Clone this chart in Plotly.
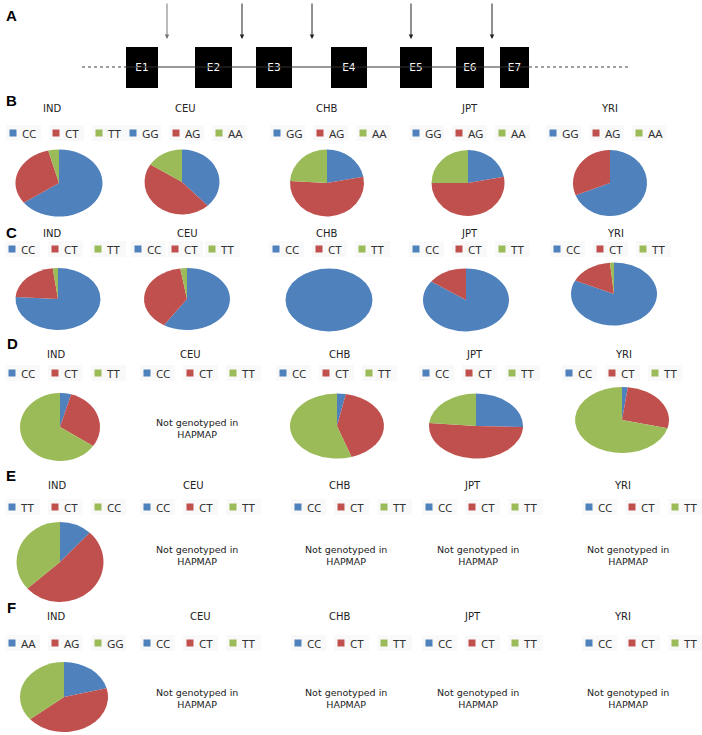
import json
import plotly.graph_objects as go

# ── Data ─────────────────────────────────────────────────────────────────────
POPS = ["IND", "CEU", "CHB", "JPT", "YRI"]

# panel A: exon layout along the gene (schematic units) and SNP positions
EXON_LABELS = ["E1", "E2", "E3", "E4", "E5", "E6", "E7"]
EXON_START = [126, 195, 256, 331, 400, 456, 500]
EXON_END = [158, 232, 292, 367, 432, 484, 529]
SNP_POS = [167, 242, 312, 411, 492]
FLANK = [82, 628]

# genotype labels per population (B-F)
LABELS_B = [["CC", "CT", "TT"]] + [["GG", "AG", "AA"]] * 4
LABELS_C = [["CC", "CT", "TT"]] * 5
LABELS_D = [["CC", "CT", "TT"]] * 5
LABELS_E = [["TT", "CT", "CC"]] + [["CC", "CT", "TT"]] * 4
LABELS_F = [["AA", "AG", "GG"]] + [["CC", "CT", "TT"]] * 4

# genotype frequencies (%); None = not genotyped in HapMap
PCT_B = [[65, 31, 4], [38, 46, 16], [22, 54, 24], [22, 53, 25], [69, 31, 0]]
PCT_C = [[76, 22, 2], [59, 38.5, 2.5], [100, 0, 0], [85, 15, 0], [82, 16.5, 1.5]]
PCT_D = [[4.5, 30, 65.5], None, [3, 42, 55], [25.5, 51, 23.5], [2, 27, 71]]
PCT_E = [[12, 51.5, 36.5], None, None, None, None]
PCT_F = [[21, 43, 36], None, None, None, None]

# ── Theme / layout constants ─────────────────────────────────────────────────
W, H = 702, 735
COLORS = ["#4f81bd", "#c0504d", "#9bbb59"]
TXT = "#222222"
TITLE_FONT = dict(family="DejaVu Sans", size=10, color=TXT)
LEG_FONT = dict(family="Noto Sans", size=11.5, color="#333333")

ROWS = [
    dict(name="B", labels=LABELS_B, pct=PCT_B,
         letter=(11, 100), title_y=108, title_x=[52, 185, 327, 469, 609],
         leg_y=133, leg_x=[13, 133, 277, 416, 553], leg_step=[43, 43, 43, 43, 43],
         pies=[(59, 183, 87, 67), (182, 182, 75, 65), (327, 183, 74, 67),
               (468, 183, 73, 66), (610, 183, 74, 66)], ng_y=None),
    dict(name="C", labels=LABELS_C, pct=PCT_C,
         letter=(11, 232), title_y=233, title_x=[52, 187, 327, 469, 615],
         leg_y=249, leg_x=[12, 138, 276, 416, 557], leg_step=[43, 37, 43, 43, 43],
         pies=[(58, 299, 85, 62), (187, 299, 86, 62), (329, 300, 87, 63),
               (466, 300, 86, 63), (614, 294, 86, 63)], ng_y=None),
    dict(name="D", labels=LABELS_D, pct=PCT_D,
         letter=(12, 343), title_y=354, title_x=[56, 190, 340, 474, 623],
         leg_y=373, leg_x=[12, 147, 283, 426, 569], leg_step=[43, 43, 43, 43, 43],
         pies=[(60, 427, 80, 68), None, (337, 426, 94, 65),
               (476, 426, 94, 65), (622, 420, 94, 66)], ng_y=428),
    dict(name="E", labels=LABELS_E, pct=PCT_E,
         letter=(11, 475), title_y=485, title_x=[57, 193, 340, 472, 622],
         leg_y=507, leg_x=[12, 147, 298, 429, 589], leg_step=[43, 43, 43, 43, 43],
         pies=[(60, 562, 87, 80), None, None, None, None], ng_y=555),
    dict(name="F", labels=LABELS_F, pct=PCT_F,
         letter=(11, 607), title_y=616, title_x=[56, 200, 340, 472, 622],
         leg_y=643, leg_x=[12, 147, 298, 429, 589], leg_step=[43, 43, 43, 43, 43],
         pies=[(64, 697, 88, 70), None, None, None, None], ng_y=698),
]
NG_X = [None, 197, 346, 478, 628]

fig = go.Figure()
annotations = []
shapes = []

# ── Panel A: gene structure ──────────────────────────────────────────────────
LINE_Y, EXON_H = 67, 41
annotations.append(dict(x=11, y=15, text="<b>A</b>", showarrow=False,
                        font=dict(family="Liberation Sans", size=15, color="black")))
fig.add_trace(go.Scatter(x=[FLANK[0], EXON_START[0]], y=[LINE_Y, LINE_Y], mode="lines",
                         line=dict(color="#444", width=1, dash="dot"), hoverinfo="skip"))
fig.add_trace(go.Scatter(x=[EXON_END[-1], FLANK[1]], y=[LINE_Y, LINE_Y], mode="lines",
                         line=dict(color="#444", width=1, dash="dot"), hoverinfo="skip"))
fig.add_trace(go.Scatter(x=[EXON_START[0], EXON_END[-1]], y=[LINE_Y, LINE_Y], mode="lines",
                         line=dict(color="#333", width=1), hoverinfo="skip"))
fig.add_trace(go.Bar(
    orientation="h", y=[LINE_Y] * len(EXON_LABELS), base=EXON_START,
    x=[e - s for s, e in zip(EXON_START, EXON_END)], width=EXON_H,
    marker=dict(color="black", line=dict(width=0)),
    text=EXON_LABELS, textposition="inside", insidetextanchor="middle", textangle=0,
    textfont=dict(family="DejaVu Sans", size=10.5, color="white"), hoverinfo="skip",
))
for k, xp in enumerate(SNP_POS):
    annotations.append(dict(x=xp, y=39, ax=xp, ay=2, axref="x", ayref="y",
                            showarrow=True, arrowhead=2, arrowsize=0.9, arrowwidth=1,
                            arrowcolor="#777" if k == 0 else "#222", text=""))

# ── Panels B-F: genotype pies ────────────────────────────────────────────────
stretch = []
for row in ROWS:
    lx, ly = row["letter"]
    annotations.append(dict(x=lx, y=ly, text="<b>%s</b>" % row["name"], showarrow=False,
                            font=dict(family="Liberation Sans", size=15, color="black")))
    for i, pop in enumerate(POPS):
        annotations.append(dict(x=row["title_x"][i], y=row["title_y"], text=pop,
                                showarrow=False, font=TITLE_FONT))
        # legend keys
        for j, lab in enumerate(row["labels"][i]):
            mx = row["leg_x"][i] + j * row["leg_step"][i]
            my = row["leg_y"]
            shapes.append(dict(type="rect", x0=mx - 7, x1=mx + 28, y0=my - 8, y1=my + 8,
                               fillcolor="#f9f9f9", line=dict(width=0), layer="below"))
            shapes.append(dict(type="rect", x0=mx - 3.5, x1=mx + 3.5, y0=my - 3.5, y1=my + 3.5,
                               fillcolor=COLORS[j], line=dict(width=0)))
            annotations.append(dict(x=mx + 7, y=my, text=lab, showarrow=False,
                                    xanchor="left", yanchor="middle", font=LEG_FONT))
        vals = row["pct"][i]
        if vals is None:
            annotations.append(dict(x=NG_X[i], y=row["ng_y"],
                                    text="Not genotyped in<br>HAPMAP", showarrow=False,
                                    font=dict(family="DejaVu Sans", size=9.5, color=TXT)))
            continue
        cx, cy, w, h = row["pies"][i]
        fig.add_trace(go.Pie(
            values=vals, labels=row["labels"][i], sort=False, direction="clockwise",
            rotation=0, textinfo="none", showlegend=False,
            marker=dict(colors=COLORS, line=dict(width=0)),
            domain=dict(x=[(cx - w / 2) / W, (cx + w / 2) / W],
                        y=[1 - (cy + h / 2) / H, 1 - (cy - h / 2) / H]),
        ))
        stretch.append(round(w / h, 3))

fig.update_layout(
    width=W, height=H, margin=dict(l=0, r=0, t=0, b=0, pad=0),
    paper_bgcolor="white", plot_bgcolor="white", showlegend=False,
    xaxis=dict(range=[0, W], domain=[0, 1], visible=False, fixedrange=True),
    yaxis=dict(range=[H, 0], domain=[0, 1], visible=False, fixedrange=True),
    annotations=annotations, shapes=shapes, bargap=0,
)

# drop the default page margin, then stretch the pies horizontally
# (the original Excel pies are slightly elliptical)
STRETCH_JS = """
document.body.style.margin = '0';
document.body.style.overflow = 'hidden';
var sx = %s;
document.querySelectorAll('.pielayer g.trace').forEach(function(g, i) {
  var b = g.getBBox();
  var cx = b.x + b.width / 2;
  g.setAttribute('transform', 'translate(' + cx + ',0) scale(' + sx[i] + ',1) translate(' + (-cx) + ',0)');
});
""" % json.dumps(stretch)

fig.write_html("out.html", post_script=STRETCH_JS,
               config={"displayModeBar": False, "staticPlot": True})
